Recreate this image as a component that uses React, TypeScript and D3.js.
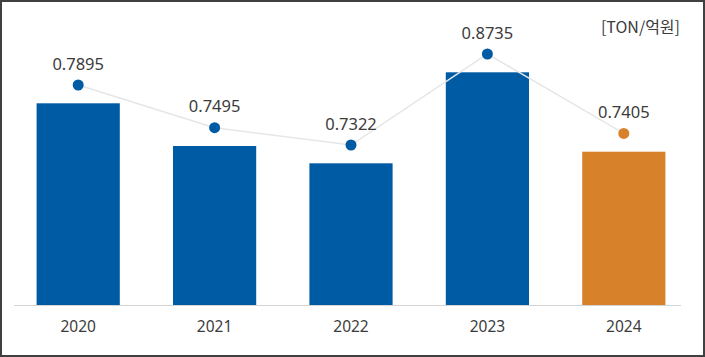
import React from "react";
import * as d3 from "d3";

const years = ["2020", "2021", "2022", "2023", "2024"];
const barValues = [201.7, 159, 141.7, 232.7, 153.3];
const lineValues = [0.7895, 0.7495, 0.7322, 0.8735, 0.7405];
const lineLabels = ["0.7895", "0.7495", "0.7322", "0.8735", "0.7405"];
const unitLabel = "[TON/억원]";

const W = 705;
const H = 357;
const BLUE = "#005BA5";
const ORANGE = "#D7812A";
const FONT = "'Noto Sans', 'Noto Sans CJK KR', sans-serif";
const FONT_KR = "'Noto Sans CJK KR', 'Noto Sans', sans-serif";

export default function App() {
  const x = d3.scaleBand<string>().domain(years).range([10, 692]).paddingInner(0.39).paddingOuter(0.195);
  const y = d3.scaleLinear().domain([0, 250]).range([305, 55]);
  const pointOffset = 18.3;
  const pts = years.map((yr, i) => ({
    x: (x(yr) as number) + x.bandwidth() / 2,
    y: y(barValues[i]) - pointOffset,
    v: lineValues[i],
    label: lineLabels[i],
    last: i === years.length - 1,
  }));
  const line = d3.line<{ x: number; y: number }>().x((d) => d.x).y((d) => d.y);

  return (
    <svg width={W} height={H} style={{ position: "absolute", left: 0, top: 0, background: "#fff" }} fontFamily={FONT}>
      <rect x={1} y={1} width={W - 2} height={H - 2} fill="#fff" stroke="#404040" strokeWidth={2} />
      {years.map((yr, i) => (
        <rect
          key={yr}
          x={x(yr)}
          y={y(barValues[i])}
          width={x.bandwidth()}
          height={y(0) - y(barValues[i])}
          fill={i === years.length - 1 ? ORANGE : BLUE}
        />
      ))}
      <line x1={14} x2={681} y1={y(0) + 0.5} y2={y(0) + 0.5} stroke="#d4d4d4" strokeWidth={1} />
      <path d={line(pts) || ""} fill="none" stroke="#e6e6e6" strokeWidth={1.5} />
      {pts.map((p) => (
        <g key={p.label}>
          <circle cx={p.x} cy={p.y} r={5.5} fill={p.last ? ORANGE : BLUE} />
          <text x={p.x} y={p.y - 15.5} textAnchor="middle" fontSize={16.5} fill="#3c3c3c">
            {p.label}
          </text>
        </g>
      ))}
      {years.map((yr) => (
        <text key={yr} x={(x(yr) as number) + x.bandwidth() / 2} y={332} textAnchor="middle" fontSize={15.5} fill="#3c3c3c">
          {yr}
        </text>
      ))}
      <text x={680} y={33} textAnchor="end" fontSize={16} fill="#3c3c3c" fontFamily={FONT_KR}>
        {unitLabel}
      </text>
    </svg>
  );
}
